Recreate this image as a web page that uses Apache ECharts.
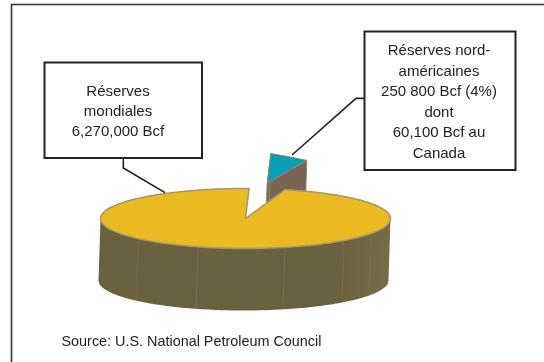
<!DOCTYPE html>
<html lang="fr">
<head>
<meta charset="utf-8">
<title>Réserves de gaz naturel</title>
<style>
  html, body { margin: 0; padding: 0; background: #fff; }
  #chart { width: 544px; height: 362px; }
</style>
<script src="https://cdn.jsdelivr.net/npm/echarts@6/dist/echarts.min.js"></script>
</head>
<body>
<div id="chart"></div>
<script>
// Reserves in Bcf: the world total and the North American part of it
const sliceNames = ['Réserves nord-américaines', 'Réserves mondiales'];
const worldReserves = 6270000;
const northAmericaReserves = 250800;
const sliceValues = [northAmericaReserves, worldReserves - northAmericaReserves];

const worldLabel = ['Réserves', 'mondiales', '6,270,000 Bcf'];
const northAmericaLabel = ['Réserves nord-', 'américaines', '250 800 Bcf (4%)', 'dont', '60,100 Bcf au', 'Canada'];
const sourceLabel = 'Source: U.S. National Petroleum Council';

// Tilted disc projection
const disc = { cx: 245.5, cy: 218.5, rx: 145, ry: 30, depth: 62, drift: -2 };
const startAngle = 1.4;                   // degrees clockwise from 12 o'clock
const explode = { dx: 21.8, dy: -35.5, shear: 0.16 };
const facetAngles = [120, 137.2, 164.2, 199.1, 227.8];

const total = sliceValues.reduce((a, b) => a + b, 0);
const toSweep = v => v / total * 360;

function rim(deg) {
  const t = deg * Math.PI / 180;
  return [disc.rx * Math.sin(t), -disc.ry * Math.cos(t)];
}

function arcPoints(from, to) {
  const n = Math.max(2, Math.ceil(Math.abs(to - from)));
  const pts = [];
  for (let i = 0; i <= n; i++) pts.push(rim(from + (to - from) * i / n));
  return pts;
}

function poly(points, style) {
  return { type: 'polygon', shape: { points }, style };
}

// The small slice is pulled away from the disc and drawn behind it
function renderNorthAmerica(sweep) {
  const ox = disc.cx + explode.dx, oy = disc.cy + explode.dy;
  const place = p => [ox + p[0], oy + p[1] + explode.shear * p[0]];
  const arc = arcPoints(startAngle, startAngle + sweep).map(place);
  const apex = [ox, oy];
  const corner = arc[arc.length - 1];
  const drop = p => [p[0] + disc.drift, p[1] + disc.depth];
  return {
    type: 'group',
    children: [
      poly([apex, corner, drop(corner), drop(apex)], {
        fill: '#7a6454', stroke: '#8f8572', lineWidth: 1, lineJoin: 'round'
      }),
      poly([arc[0], drop(arc[0]), drop(apex), apex], {
        fill: '#7a6454', stroke: '#8f8572', lineWidth: 1, lineJoin: 'round'
      }),
      poly([apex].concat(arc), {
        fill: '#07a0b4', stroke: '#8f8572', lineWidth: 1, lineJoin: 'round'
      })
    ]
  };
}

function renderWorld(sweep) {
  const from = startAngle + toSweep(sliceValues[0]);
  const to = from + sweep;
  const top = p => [disc.cx + p[0], disc.cy + p[1]];
  const bottom = p => [disc.cx + disc.drift + p[0], disc.cy + disc.depth + p[1]];

  // Outer wall: only the near half of the rim is visible
  const wallFront = arcPoints(90, 270);
  const wall = wallFront.map(top).concat(wallFront.slice().reverse().map(bottom));
  const facets = facetAngles.map(a => ({
    type: 'line',
    shape: {
      x1: top(rim(a))[0], y1: top(rim(a))[1],
      x2: bottom(rim(a))[0], y2: bottom(rim(a))[1]
    },
    style: { stroke: '#80754a', lineWidth: 1, opacity: 0.55 }
  }));
  const face = [[disc.cx, disc.cy]].concat(arcPoints(from, to).map(top));

  return {
    type: 'group',
    children: [
      poly(wall, {
        fill: new echarts.graphic.LinearGradient(0, 0, 1, 0, [
          { offset: 0, color: '#6a6140' },
          { offset: 0.82, color: '#6a6140' },
          { offset: 1, color: '#776c47' }
        ])
      })
    ].concat(facets, [
      poly(face, {
        fill: '#ebba22', stroke: '#a39669', lineWidth: 1.5, lineJoin: 'round'
      })
    ])
  };
}

function calloutBox(x, y, width, height, lines, textCx, textTop, lineHeight) {
  return [
    {
      type: 'rect',
      shape: { x, y, width, height },
      style: { fill: '#fff', stroke: '#222', lineWidth: 2 },
      z: 5
    },
    {
      type: 'text',
      x: textCx,
      y: textTop,
      z: 6,
      style: {
        text: lines.join('\n'),
        fill: '#222',
        font: '15px "Liberation Sans", Arial, sans-serif',
        align: 'center',
        verticalAlign: 'top',
        lineHeight
      }
    }
  ];
}

function leader(points) {
  return {
    type: 'polyline',
    shape: { points },
    style: { fill: null, stroke: '#222', lineWidth: 1.6 },
    z: 4
  };
}

const chart = echarts.init(document.getElementById('chart'), null, { renderer: 'canvas' });
chart.setOption({
  backgroundColor: '#fff',
  animation: false,
  title: {
    text: sourceLabel,
    left: 61.5,
    top: 335,
    padding: 0,
    textStyle: {
      color: '#222',
      fontWeight: 'normal',
      fontSize: 14.4,
      fontFamily: '"Liberation Sans", Arial, sans-serif'
    }
  },
  series: [{
    type: 'custom',
    coordinateSystem: 'none',
    silent: true,
    z: 2,
    data: sliceNames.map((name, i) => ({ name, value: sliceValues[i] })),
    renderItem(params, api) {
      const sweep = toSweep(api.value(0));
      return params.dataIndex === 0 ? renderNorthAmerica(sweep) : renderWorld(sweep);
    }
  }],
  graphic: [
    { type: 'polyline', shape: { points: [[544, 4.5], [11.5, 4.5], [11.5, 362]] },
      style: { fill: null, stroke: '#333', lineWidth: 1.6 }, z: 1 },
    leader([[123.3, 158], [123.3, 168], [165, 192.6]]),
    leader([[364, 98.4], [356, 98.4], [292, 155]])
  ].concat(
    calloutBox(44.5, 62.5, 157.5, 95.5, worldLabel, 118, 82, 20),
    calloutBox(364.5, 31.5, 151, 138.5, northAmericaLabel, 439, 40.5, 20.6)
  )
});
</script>
</body>
</html>
